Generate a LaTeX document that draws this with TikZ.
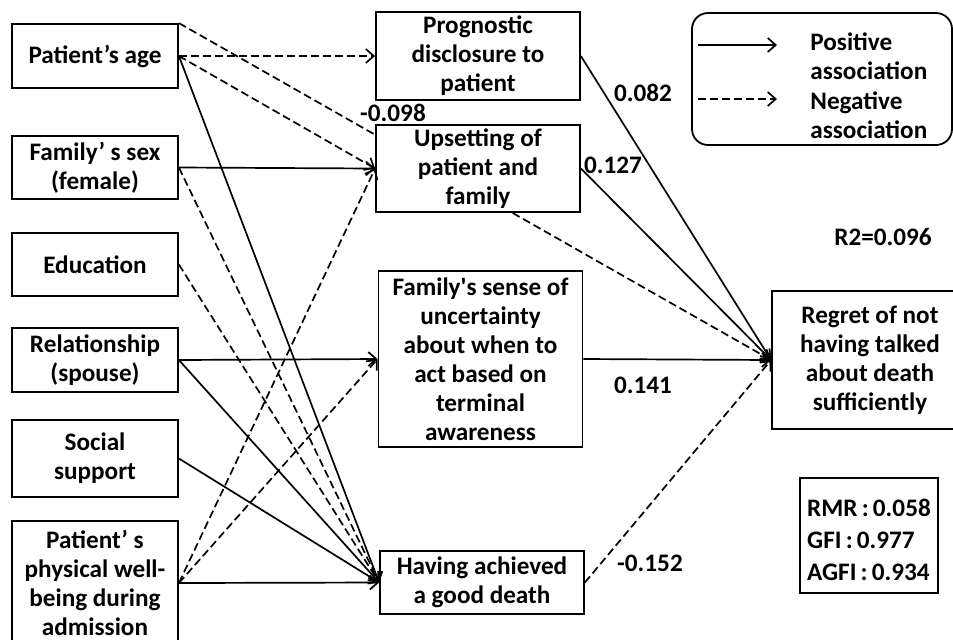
\documentclass[tikz,border=0pt]{standalone}
\usepackage{fontspec}
\setmainfont{Carlito}
\usetikzlibrary{arrows.meta,backgrounds}

\begin{document}
\begin{tikzpicture}[
  x=0.5pt, y=-0.5pt,
  font=\fontsize{12.6}{14.5}\selectfont\bfseries,
  b/.style={draw, line width=0.9pt, fill=white, align=center, inner sep=2pt},
  lft/.style={b, minimum width=83pt},
  mid/.style={b, minimum width=102pt},
  lbl/.style={inner sep=1pt},
  pf/.style={line width=0.85pt, -{Straight Barb[length=4pt,width=7pt]}},
  nf/.style={pf, dash pattern=on 4pt off 2pt}
]
\useasboundingbox (0,0) rectangle (953,639);
\clip (0,0) rectangle (953,639);
\node[lft, minimum height=32pt] (age) at (95,56) {Patient’s age};
\node[lft, minimum height=31.5pt] (sex) at (95,167.5) {Family’ s sex\\(female)};
\node[lft, minimum height=31.5pt] (edu) at (95,264.5) {Education};
\node[lft, minimum height=32pt] (rel) at (95,360) {Relationship\\(spouse)};
\node[lft, minimum height=38.5pt] (soc) at (95,458.5) {Social\\support};
\node[lft, minimum height=62pt] (well) at (95,583) {Patient’ s\\physical well-\\being during\\admission};
\node[mid, minimum height=43pt] (prog) at (478,56) {Prognostic\\disclosure to\\patient};
\node[mid, minimum height=43.5pt] (upset) at (478,168.5) {Upsetting of\\patient and\\family};
\node[mid, minimum height=88pt] (unc) at (480.5,359) {Family\textquotesingle s sense of\\uncertainty\\about when to\\act based on\\terminal\\awareness};
\node[mid, minimum height=31.5pt] (good) at (482,582.5) {Having achieved\\a good death};
\node[b, minimum width=98pt, minimum height=69pt] (regret) at (870,360) {Regret of not\\having talked\\about death\\sufficiently};
\node[draw, line width=0.9pt, rounded corners=8pt, minimum width=130pt, minimum height=66pt] (leg) at (822,79) {};
\coordinate (posa) at (698,45); \coordinate (posb) at (777,45);
\coordinate (nega) at (698,99); \coordinate (negb) at (777,99);
\node[lbl, anchor=west, align=left] (postxt) at (808,56) {Positive\\association};
\node[lbl, anchor=west, align=left] (negtxt) at (808,115) {Negative\\association};
\node[draw, line width=0.6pt, align=left, minimum width=69pt, minimum height=57.5pt,
  font=\fontsize{12.6}{16}\selectfont\bfseries] (fit) at (869,535.5) {\rule{0pt}{13.5pt}RMR\,:\,0.058\\GFI\,:\,0.977\\AGFI\,:\,0.934};
\node[lbl] (l082) at (643,93) {0.082};
\node[lbl] (l098) at (393,113) {-0.098};
\node[lbl] (l127) at (613,165) {0.127};
\node[lbl] (l141) at (643,385) {0.141};
\node[lbl] (l152) at (650,563) {-0.152};
\node[lbl] (r2) at (883,237) {R2=0.096};
\begin{scope}[on background layer]
\draw[nf] (age.north east) -- (regret.west);
\end{scope}
\draw[pf] (posa) -- (posb); \draw[nf] (nega) -- (negb);
\draw[nf] (age.east) -- (prog.west); \draw[nf] (age.east) -- (upset.west);
\draw[pf] (age.east) -- (good.west); \draw[pf] (sex.east) -- (upset.west);
\draw[nf] (sex.east) -- (good.west); \draw[nf] (edu.east) -- (good.west);
\draw[pf] (rel.east) -- (unc.west); \draw[pf] (rel.east) -- (good.west);
\draw[pf] (soc.east) -- (good.west);
\draw[nf] (well.east) -- (upset.west); \draw[nf] (well.east) -- (unc.west);
\draw[pf] (well.east) -- (good.west);
\draw[pf] (prog.east) -- (regret.west); \draw[pf] (upset.east) -- (regret.west);
\draw[pf] (unc.east) -- (regret.west); \draw[nf] (good.east) -- (regret.west);
\end{tikzpicture}
\end{document}
